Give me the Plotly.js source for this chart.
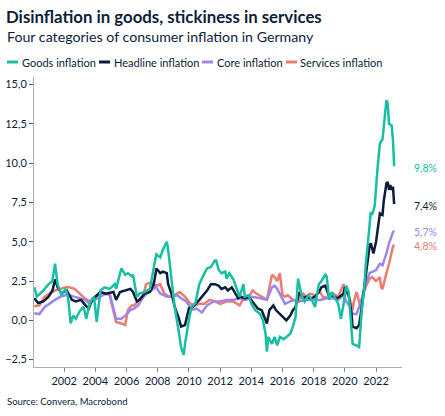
<!DOCTYPE html>
<html>
<head>
<meta charset="utf-8">
<script src="https://cdn.plot.ly/plotly-3.0.1.min.js"></script>
<style>html,body{margin:0;padding:0;background:#fff;}#chart{width:445px;height:416px;}</style>
</head>
<body>
<div id="chart"></div>
<script>
// ---- data ----
const seriesNames = ["Goods inflation", "Headline inflation", "Core inflation", "Services inflation"];

const goodsDates = ["2000-02","2000-04","2000-09","2001-01","2001-04","2001-06","2001-08","2001-11","2002-02","2002-04","2002-06","2002-08","2002-10","2003-01","2003-04","2003-06","2003-08","2003-10","2003-12","2004-02","2004-05","2004-08","2004-12","2005-04","2005-05","2005-09","2005-12","2006-02","2006-05","2006-06","2006-09","2006-11","2007-03","2007-07","2007-11","2007-12","2008-03","2008-05","2008-08","2008-09","2008-12","2009-02","2009-05","2009-07","2009-09","2009-10","2010-01","2010-03","2010-06","2010-09","2011-01","2011-03","2011-06","2011-09","2011-10","2011-12","2012-02","2012-05","2012-06","2012-08","2012-11","2013-02","2013-04","2013-07","2013-08","2013-11","2014-01","2014-04","2014-08","2014-10","2014-12","2015-01","2015-02","2015-05","2015-07","2015-09","2015-11","2016-02","2016-04","2016-07","2016-09","2016-11","2017-01","2017-04","2017-06","2017-09","2017-11","2018-02","2018-05","2018-07","2018-10","2018-11","2019-01","2019-03","2019-05","2019-08","2019-10","2019-12","2020-02","2020-04","2020-05","2020-06","2020-07","2020-10","2020-12","2021-02","2021-04","2021-05","2021-07","2021-09","2021-10","2021-12","2022-02","2022-04","2022-06","2022-07","2022-09","2022-10","2022-11","2023-01","2023-02","2023-03"];
const goodsValues = [2.1,1.5,1.9,2.3,2.5,3.6,2.3,1.6,2.0,1.5,-0.2,0.3,0.1,0.6,0.85,0.1,0.85,1.3,1.5,-0.1,1.9,2.1,2.0,2.3,2.0,3.3,2.9,3.0,2.8,2.9,1.5,1.7,1.8,2.0,3.8,4.2,4.0,4.5,5.0,4.5,2.3,0.85,-0.6,-1.7,-2.2,-1.5,0.0,0.85,1.1,2.3,3.0,3.3,3.4,3.8,3.8,3.2,3.0,3.1,2.65,3.0,2.65,2.0,1.5,2.3,1.5,1.6,1.05,0.65,0.4,0.0,-0.85,-2.0,-1.05,-1.5,-1.05,-1.6,-1.05,-1.2,-1.05,-0.85,-0.4,0.2,2.65,1.5,1.2,1.6,1.4,0.85,2.3,2.5,2.9,2.8,1.3,1.8,1.5,1.05,0.1,1.0,2.2,1.8,0.65,-0.4,-1.5,-1.6,-1.7,0.65,2.1,3.4,5.0,6.9,6.7,7.3,9.55,11.25,11.5,12.5,14.0,13.8,12.5,12.4,11.5,9.8];

const headlineDates = ["2000-02","2000-05","2000-09","2001-01","2001-04","2001-06","2001-08","2001-11","2002-03","2002-07","2002-10","2003-02","2003-05","2003-08","2003-10","2004-01","2004-05","2004-09","2005-03","2005-05","2005-08","2005-12","2006-04","2006-06","2006-09","2006-11","2007-03","2007-07","2007-10","2007-12","2008-03","2008-05","2008-08","2008-09","2008-12","2009-02","2009-05","2009-07","2009-10","2010-01","2010-04","2010-09","2011-03","2011-06","2011-09","2011-12","2012-02","2012-05","2012-07","2012-10","2012-12","2013-03","2013-05","2013-08","2013-11","2014-01","2014-04","2014-06","2014-09","2014-12","2015-01","2015-03","2015-06","2015-08","2015-11","2016-02","2016-04","2016-07","2016-09","2016-11","2017-02","2017-05","2017-07","2017-11","2018-02","2018-05","2018-07","2018-10","2019-01","2019-03","2019-07","2019-09","2019-12","2020-01","2020-04","2020-06","2020-07","2020-10","2020-12","2021-02","2021-04","2021-05","2021-07","2021-08","2021-09","2021-11","2022-01","2022-03","2022-04","2022-06","2022-07","2022-09","2022-10","2022-11","2022-12","2023-01","2023-02","2023-03"];
const headlineValues = [1.4,1.1,1.2,1.5,1.9,2.6,2.1,1.7,1.9,1.3,1.2,1.3,1.0,0.75,1.2,1.5,1.8,1.7,1.8,1.3,1.8,1.9,2.0,1.8,1.2,1.3,1.7,1.8,2.3,3.3,3.0,3.1,3.0,2.3,1.6,0.85,0.2,-0.4,-0.3,0.75,0.85,1.3,1.9,2.3,2.3,2.2,2.0,2.1,1.9,2.1,1.8,1.4,1.5,1.4,1.5,1.3,0.95,0.75,0.65,0.1,-0.2,0.65,0.95,0.65,0.4,0.1,0.0,0.3,0.65,0.85,1.8,1.4,1.5,1.4,1.5,1.8,2.1,2.2,1.5,1.6,1.4,1.5,1.7,2.1,1.6,0.5,-0.4,-0.5,-0.3,0.85,2.0,2.9,3.8,4.7,4.9,4.25,5.0,6.4,6.8,6.7,7.6,8.7,8.8,8.3,8.6,8.3,8.5,7.4];

const coreDates = ["2000-02","2000-06","2000-10","2001-02","2001-06","2001-10","2002-02","2002-05","2002-09","2003-01","2003-05","2003-08","2003-10","2004-02","2004-06","2004-09","2004-12","2005-03","2005-05","2005-09","2005-12","2006-04","2006-07","2006-10","2007-02","2007-06","2007-10","2007-11","2008-03","2008-08","2008-12","2009-04","2009-07","2009-11","2010-03","2010-07","2010-09","2010-11","2011-03","2011-08","2012-01","2012-06","2012-11","2013-04","2013-09","2014-02","2014-08","2015-01","2015-05","2015-07","2015-09","2016-01","2016-03","2016-07","2016-10","2017-02","2017-07","2018-01","2018-06","2018-11","2019-04","2019-08","2019-12","2020-02","2020-05","2020-07","2020-10","2021-01","2021-03","2021-05","2021-08","2021-10","2022-01","2022-04","2022-06","2022-09","2022-11","2023-02","2023-03"];
const coreValues = [0.45,0.4,0.85,1.1,1.3,1.5,1.6,1.6,1.5,1.4,1.3,1.1,1.2,1.4,1.6,1.7,1.7,0.85,0.1,0.1,0.3,0.65,0.75,0.95,1.5,1.8,2.0,2.2,1.7,1.5,1.5,1.6,1.4,1.2,0.65,0.75,0.65,0.5,0.95,1.2,1.2,1.3,1.3,1.4,1.3,1.5,1.4,1.3,2.1,2.2,2.0,1.4,1.05,1.2,1.3,1.2,1.3,1.3,1.3,1.4,1.4,1.3,1.6,1.2,0.85,0.4,0.4,1.05,1.7,2.3,3.0,3.1,3.2,3.6,3.5,4.25,4.9,5.6,5.7];

const servicesDates = ["2000-02","2000-06","2000-10","2001-02","2001-06","2001-10","2002-02","2002-05","2002-09","2003-01","2003-05","2003-09","2004-01","2004-05","2004-08","2004-12","2005-03","2005-05","2005-09","2005-12","2006-02","2006-05","2006-07","2006-10","2007-02","2007-04","2007-08","2007-12","2008-03","2008-06","2008-10","2009-02","2009-06","2009-10","2010-02","2010-06","2010-09","2011-01","2011-05","2011-09","2012-01","2012-06","2012-11","2013-04","2013-08","2013-12","2014-02","2014-05","2014-09","2015-01","2015-05","2015-07","2015-09","2015-11","2016-01","2016-03","2016-05","2016-09","2017-01","2017-05","2017-07","2017-10","2018-02","2018-06","2018-08","2019-01","2019-04","2019-08","2019-12","2020-02","2020-05","2020-07","2020-08","2020-10","2021-01","2021-03","2021-05","2021-08","2021-10","2022-01","2022-04","2022-05","2022-06","2022-09","2022-11","2023-02","2023-03"];
const servicesValues = [0.9,0.95,1.5,1.7,1.9,2.0,2.1,2.1,2.0,1.7,1.4,1.2,1.5,1.7,1.7,1.6,0.65,-0.1,-0.2,-0.3,0.65,0.95,0.95,1.2,1.6,2.3,2.4,2.2,2.3,1.7,1.5,1.6,1.8,1.5,1.05,0.95,1.05,1.05,1.3,1.2,1.05,1.2,1.2,0.95,1.5,1.6,1.9,1.7,1.5,1.3,2.9,2.75,2.5,3.0,1.6,1.5,1.6,1.3,1.2,1.7,1.5,1.7,1.6,1.8,1.5,1.4,1.7,1.5,2.3,1.9,1.3,0.65,1.2,1.8,0.85,1.6,2.1,2.65,2.75,2.5,2.75,2.1,2.0,3.0,3.6,4.7,4.8];

const yTickValues = [-2.5, 0, 2.5, 5, 7.5, 10, 12.5, 15];

// ---- styling ----
const colors = {goods: "#17bfa3", headline: "#0c1d3b", core: "#9d86f0", services: "#ec7b70"};
const FONT = "Lato, 'Open Sans', sans-serif";
const TXT = "#0c1d3b";

// plot-area geometry in pixels
const W = 445, H = 416, L = 34, R = 43, T = 77, B = 49;
const PW = W - L - R, PH = H - T - B;
const px = x => (x - L) / PW;
const py = y => (H - B - y) / PH;

const seriesDefs = [
  {name: seriesNames[3], x: servicesDates, y: servicesValues, c: colors.services},
  {name: seriesNames[2], x: coreDates, y: coreValues, c: colors.core},
  {name: seriesNames[1], x: headlineDates, y: headlineValues, c: colors.headline},
  {name: seriesNames[0], x: goodsDates, y: goodsValues, c: colors.goods}
];
seriesDefs.forEach(s => { if (s.x.length !== s.y.length) throw new Error("length mismatch " + s.name + " " + s.x.length + " " + s.y.length); });

const traces = seriesDefs.map(s => ({
  type: "scatter", mode: "lines", name: s.name, x: s.x, y: s.y,
  line: {color: s.c, width: 2.5}, showlegend: false, hoverinfo: "skip"
}));

const fmt = v => v.toFixed(1).replace(".", ",") + "%";
const annotations = [];
const shapes = [];

// end-value labels
seriesDefs.forEach(s => {
  const last = s.y[s.y.length - 1];
  annotations.push({xref: "paper", yref: "y", x: px(412), y: last - 0.1, xanchor: "left", yanchor: "middle",
    text: fmt(last), showarrow: false, font: {family: FONT, size: 10.5, color: s.c}});
});

// subtitle
annotations.push({xref: "paper", yref: "paper", x: px(5), y: py(37), xanchor: "left", yanchor: "middle",
  text: "Four categories of consumer inflation in Germany", showarrow: false,
  font: {family: FONT, size: 14.2, color: TXT}});
// source
annotations.push({xref: "paper", yref: "paper", x: px(5), y: py(401), xanchor: "left", yanchor: "middle",
  text: "Source: Convera, Macrobond", showarrow: false,
  font: {family: FONT, size: 9.5, color: TXT}});

// manual legend
const legendItems = [
  {name: seriesNames[0], c: colors.goods, x0: 7, tx: 20},
  {name: seriesNames[1], c: colors.headline, x0: 99, tx: 112},
  {name: seriesNames[2], c: colors.core, x0: 202, tx: 215},
  {name: seriesNames[3], c: colors.services, x0: 286, tx: 298}
];
legendItems.forEach(it => {
  shapes.push({type: "line", xref: "paper", yref: "paper", x0: px(it.x0), x1: px(it.x0 + 11),
    y0: py(62), y1: py(62), line: {color: it.c, width: 3}});
  annotations.push({xref: "paper", yref: "paper", x: px(it.tx), y: py(62), xanchor: "left", yanchor: "middle",
    text: it.name, showarrow: false, font: {family: FONT, size: 11, color: TXT}});
});

const layout = {
  width: W, height: H,
  margin: {l: L, r: R, t: T, b: B, pad: 0},
  paper_bgcolor: "#fff", plot_bgcolor: "#fff",
  separators: ", ",
  title: {text: "<b>Disinflation in goods, stickiness in services</b>", xref: "container", yref: "container",
    x: 6 / W, xanchor: "left", y: 1 - 17 / H, yanchor: "middle",
    font: {family: FONT, size: 16.8, color: TXT}},
  xaxis: {
    type: "date", range: ["2000-01-25", "2023-09-01"],
    tick0: "2002-01-01", dtick: "M24", tickformat: "%Y",
    showgrid: false, zeroline: false, showline: true, linecolor: "#b0b0b0", linewidth: 1,
    ticks: "outside", ticklen: 4, tickcolor: "#888", tickwidth: 1,
    tickfont: {family: FONT, size: 11, color: TXT}
  },
  yaxis: {
    range: [-2.97, 15.48], tickvals: yTickValues, tickformat: ".1f",
    showgrid: false, zeroline: false, showline: true, linecolor: "#b0b0b0", linewidth: 1,
    ticks: "outside", ticklen: 4, tickcolor: "#555", tickwidth: 1,
    tickfont: {family: FONT, size: 11, color: TXT}
  },
  annotations: annotations,
  shapes: shapes,
  showlegend: false
};

Plotly.newPlot("chart", traces, layout, {displayModeBar: false, staticPlot: true});
</script>
</body>
</html>
